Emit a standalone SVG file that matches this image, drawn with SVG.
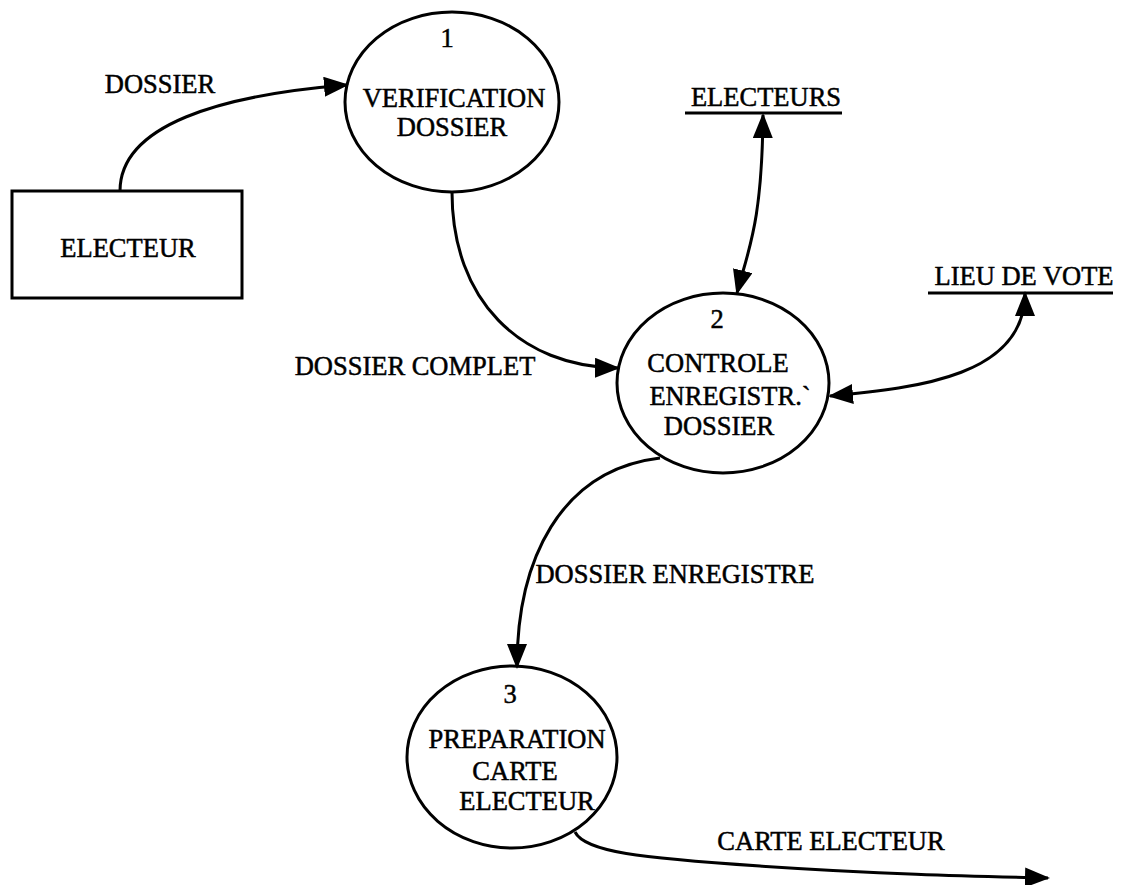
<svg xmlns="http://www.w3.org/2000/svg" width="1130" height="885" viewBox="0 0 1130 885">
  <style>
    .shape { fill: #ffffff; stroke: #000000; stroke-width: 3; }
    .flow { fill: none; stroke: #000000; stroke-width: 3; }
    .store { stroke: #000000; stroke-width: 3; }
    text { font-family: "Liberation Serif", "Times New Roman", serif; font-size: 26.5px; fill: #000000; stroke: #000000; stroke-width: 0.5; }
    .mid { text-anchor: middle; }
  </style>
  <defs>
    <marker id="arrow" viewBox="0 0 25 20" refX="23" refY="10" markerWidth="25" markerHeight="20" markerUnits="userSpaceOnUse" orient="auto-start-reverse">
      <path d="M0,0 L25,10 L0,20 Z" fill="#000000"/>
    </marker>
  </defs>

  <!-- external entity -->
  <g id="electeur">
    <rect class="shape" x="12" y="191" width="230" height="107"/>
    <text class="mid" x="128" y="257">ELECTEUR</text>
  </g>

  <!-- process 1 -->
  <g id="p1">
    <ellipse class="shape" cx="452" cy="102" rx="107" ry="90"/>
    <text class="mid" x="447" y="47">1</text>
    <text class="mid" x="454" y="107">VERIFICATION</text>
    <text class="mid" x="452" y="136">DOSSIER</text>
  </g>

  <!-- process 2 -->
  <g id="p2">
    <ellipse class="shape" cx="723" cy="383" rx="106" ry="90"/>
    <text class="mid" x="717" y="328">2</text>
    <text class="mid" x="718" y="372">CONTROLE</text>
    <text class="mid" x="730" y="405">ENREGISTR.`</text>
    <text class="mid" x="719" y="435">DOSSIER</text>
  </g>

  <!-- process 3 -->
  <g id="p3">
    <ellipse class="shape" cx="512" cy="757" rx="105" ry="91"/>
    <text class="mid" x="510" y="703">3</text>
    <text class="mid" x="517" y="748">PREPARATION</text>
    <text class="mid" x="515" y="780">CARTE</text>
    <text class="mid" x="527" y="810">ELECTEUR</text>
  </g>

  <!-- data stores -->
  <g id="store-electeurs">
    <line class="store" x1="685" y1="113" x2="842" y2="113"/>
    <text class="mid" x="766" y="106">ELECTEURS</text>
  </g>
  <g id="store-lieu">
    <line class="store" x1="928" y1="293" x2="1113" y2="293"/>
    <text class="mid" x="1024" y="285">LIEU DE VOTE</text>
  </g>

  <!-- data flows -->
  <g id="connectors">
    <path class="flow" d="M120,191 C120,125 220,95 347,85" marker-end="url(#arrow)"/>
    <path class="flow" d="M452,192 C452,300 520,367 618,368" marker-end="url(#arrow)"/>
    <path class="flow" d="M763,115 C762,225 748,250 737,293" marker-start="url(#arrow)" marker-end="url(#arrow)"/>
    <path class="flow" d="M1025,293 C1025,375 920,388 830,396" marker-start="url(#arrow)" marker-end="url(#arrow)"/>
    <path class="flow" d="M660,458 C560,470 517,560 517,667" marker-end="url(#arrow)"/>
    <path class="flow" d="M575,832 C585,852 640,858 760,866 S960,876 1048,878" marker-end="url(#arrow)"/>
  </g>

  <!-- flow labels -->
  <g id="labels">
    <text class="mid" x="160" y="93">DOSSIER</text>
    <text class="mid" x="415" y="375">DOSSIER COMPLET</text>
    <text class="mid" x="675" y="583">DOSSIER ENREGISTRE</text>
    <text class="mid" x="831" y="850">CARTE ELECTEUR</text>
  </g>
</svg>
